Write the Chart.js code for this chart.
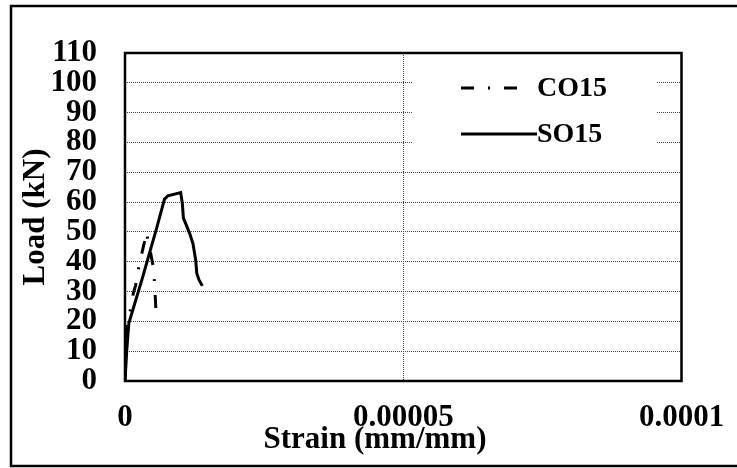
<!DOCTYPE html>
<html lang="en">
<head>
  <meta charset="UTF-8">
  <title>Load vs Strain</title>
  <script src="https://cdn.jsdelivr.net/npm/chart.js"></script>
  <style>
    body { margin: 0; background: #fff; }
  </style>
</head>
<body>
  <canvas id="strainChart" width="737" height="468"></canvas>
  <script>
    // values
    const seriesNames = ['CO15', 'SO15'];
    const co15Strain = [0, 0.0000001, 0.0000002, 0.0000005, 0.0000011, 0.0000015, 0.0000019, 0.0000026, 0.0000031, 0.0000035, 0.0000038, 0.0000043, 0.0000051, 0.0000053, 0.0000055, 0.0000056];
    const co15Load = [0, 8, 15, 20, 25, 29.5, 32, 39.5, 43.4, 46.7, 50, 46, 38, 33, 26, 20.5];
    const so15Strain = [0, 0.00000032, 0.00000069, 0.0000014, 0.0000023, 0.0000032, 0.0000044, 0.0000056, 0.0000071, 0.0000077, 0.00001, 0.0000103, 0.0000105, 0.0000116, 0.0000122, 0.0000127, 0.0000129, 0.0000133, 0.0000139];
    const so15Load = [0, 10.4, 19.4, 23.8, 29.4, 35, 42.9, 50.7, 61, 62.1, 63.2, 59.6, 54.6, 49.6, 46.2, 40.6, 36.1, 33.9, 31.9];
    const xTickLabels = ['0', '0.00005', '0.0001'];
    const xTitle = 'Strain (mm/mm)';
    const yTitle = 'Load (kN)';

    const toPoints = (xs, ys) => xs.map((x, i) => ({ x: x, y: ys[i] }));
    const serif = "'Liberation Serif', 'Times New Roman', serif";

    Chart.defaults.font.family = serif;
    Chart.defaults.font.weight = 'bold';
    Chart.defaults.color = '#000';

    const dashDot = [13, 14, 2, 14];

    // frame, x title and in-plot legend
    const extras = {
      id: 'extras',
      afterDatasetsDraw(chart) {
        const ctx = chart.ctx;
        const a = chart.chartArea;
        ctx.save();
        // legend box
        ctx.fillStyle = '#fff';
        ctx.fillRect(412, 62, 245, 96);
        ctx.strokeStyle = '#000';
        ctx.lineWidth = 3;
        ctx.setLineDash(dashDot);
        ctx.beginPath();
        ctx.moveTo(461, 88);
        ctx.lineTo(519, 88);
        ctx.stroke();
        ctx.setLineDash([]);
        ctx.beginPath();
        ctx.moveTo(461, 134);
        ctx.lineTo(537, 134);
        ctx.stroke();
        ctx.fillStyle = '#000';
        ctx.font = 'bold 28px ' + serif;
        ctx.textBaseline = 'middle';
        ctx.textAlign = 'left';
        ctx.fillText(seriesNames[0], 537, 89);
        ctx.fillText(seriesNames[1], 537, 135);
        // plot frame
        ctx.lineWidth = 2.5;
        ctx.strokeRect(a.left, a.top, a.right - a.left, a.bottom - a.top);
        ctx.restore();
      },
      afterDraw(chart) {
        const ctx = chart.ctx;
        ctx.save();
        ctx.fillStyle = '#000';
        ctx.font = 'bold 31px ' + serif;
        ctx.textAlign = 'center';
        ctx.textBaseline = 'middle';
        ctx.fillText(xTitle, 375, 440);
        ctx.strokeStyle = '#000';
        ctx.lineWidth = 2.5;
        ctx.strokeRect(11, 6, 740, 460);
        ctx.restore();
      }
    };

    const ctx = document.getElementById('strainChart').getContext('2d');
    new Chart(ctx, {
      type: 'line',
      data: {
        datasets: [{
          label: seriesNames[0],
          data: toPoints(co15Strain, co15Load),
          borderColor: '#000',
          borderWidth: 3,
          borderDash: dashDot,
          pointRadius: 0,
          tension: 0,
          fill: false
        }, {
          label: seriesNames[1],
          data: toPoints(so15Strain, so15Load),
          borderColor: '#000',
          borderWidth: 3,
          pointRadius: 0,
          tension: 0,
          fill: false
        }]
      },
      options: {
        responsive: false,
        animation: false,
        devicePixelRatio: 1,
        layout: { padding: { left: 0, top: 53, right: 55.5, bottom: 0 } },
        plugins: {
          legend: { display: false },
          tooltip: { enabled: false }
        },
        scales: {
          x: {
            type: 'linear',
            min: 0,
            max: 0.0001,
            afterFit: scale => {
              scale.height = 87;
              scale.paddingLeft = 0;
              scale.paddingRight = 0;
            },
            afterBuildTicks: scale => {
              scale.ticks = [0, 0.00005, 0.0001].map(v => ({ value: v }));
            },
            ticks: {
              padding: 18,
              font: { size: 31 },
              maxRotation: 0,
              autoSkip: false,
              callback: (value, index) => xTickLabels[index]
            },
            grid: {
              color: ctx => (ctx.tick.value === 0.00005 ? '#444' : 'rgba(0,0,0,0)'),
              lineWidth: 1,
              drawTicks: false
            },
            border: { display: false, dash: [1, 1] }
          },
          y: {
            min: 0,
            max: 110,
            afterFit: scale => {
              scale.width = 125;
              scale.paddingTop = 0;
              scale.paddingBottom = 0;
            },
            ticks: {
              stepSize: 10,
              padding: 28,
              autoSkip: false,
              font: { size: 31 }
            },
            title: {
              display: true,
              text: yTitle,
              font: { size: 31, weight: 'bold' },
              padding: { top: 17, bottom: 0 }
            },
            grid: {
              color: ctx => (ctx.tick.value > 0 && ctx.tick.value < 110 ? '#444' : 'rgba(0,0,0,0)'),
              lineWidth: 1,
              drawTicks: false
            },
            border: { display: false, dash: [1, 1] }
          }
        }
      },
      plugins: [extras]
    });
  </script>
</body>
</html>
